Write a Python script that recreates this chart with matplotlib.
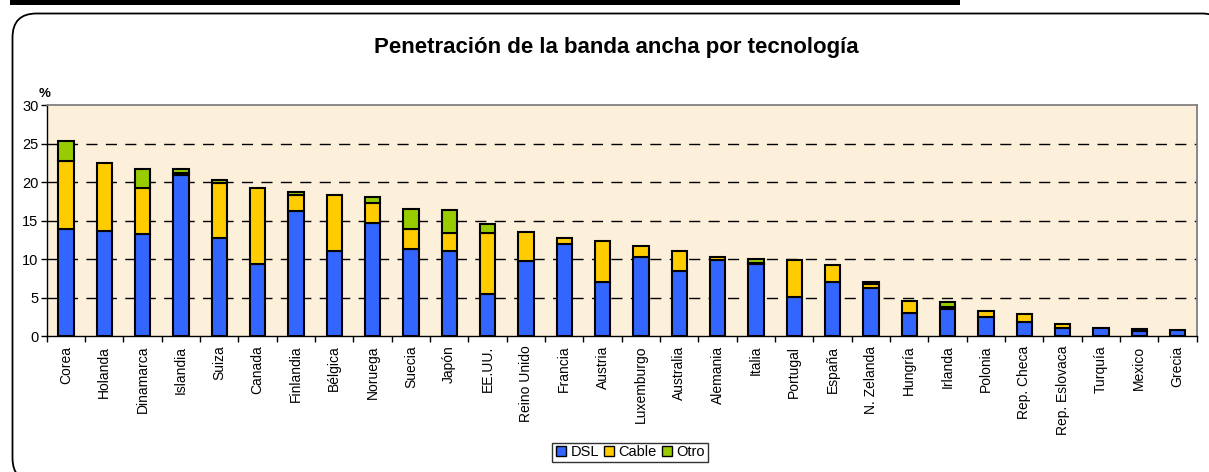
import matplotlib
matplotlib.use("Agg")
import matplotlib.pyplot as plt
from matplotlib.patches import FancyBboxPatch, Rectangle
from matplotlib.lines import Line2D
import numpy as np

plt.rcParams['font.family'] = ['Liberation Sans', 'DejaVu Sans']

countries = ["Corea", "Holanda", "Dinamarca", "Islandia", "Suiza", "Canada", "Finlandia",
             "Bélgica", "Noruega", "Suecia", "Japón", "EE.UU.", "Reino Unido", "Francia",
             "Austria", "Luxemburgo", "Australia", "Alemania", "Italia", "Portugal", "España",
             "N. Zelanda", "Hungría", "Irlanda", "Polonia", "Rep. Checa", "Rep. Eslovaca",
             "Turquía", "Mexico", "Grecia"]
dsl = [13.9, 13.6, 13.2, 20.9, 12.7, 9.4, 16.3,
       11.0, 14.75, 11.3, 11.0, 5.5, 9.7, 11.9,
       7.0, 10.3, 8.5, 9.85, 9.3, 5.1, 7.0,
       6.3, 2.95, 3.5, 2.5, 1.8, 1.1,
       1.05, 0.7, 0.8]
cable = [8.9, 8.9, 6.1, 0.3, 7.2, 9.8, 2.1,
         7.3, 2.6, 2.6, 2.4, 7.95, 3.8, 0.8,
         5.4, 1.4, 2.5, 0.45, 0.2, 4.75, 2.25,
         0.4, 1.6, 0.3, 0.8, 1.0, 0.5,
         0.0, 0.25, 0.0]
otro = [2.6, 0.0, 2.4, 0.5, 0.4, 0.0, 0.3,
        0.0, 0.7, 2.6, 3.0, 1.15, 0.0, 0.0,
        0.0, 0.0, 0.0, 0.0, 0.5, 0.0, 0.0,
        0.3, 0.0, 0.6, 0.0, 0.0, 0.0,
        0.0, 0.0, 0.0]
series_names = ["DSL", "Cable", "Otro"]
series_colors = ["#3366FF", "#FFCC00", "#99CC00"]
yticks = [0, 5, 10, 15, 20, 25, 30]
title = "Penetración de la banda ancha por tecnología"

W, H = 1209, 472
fig = plt.figure(figsize=(W / 100, H / 100), dpi=100)

# background frame axes in pixel coordinates
bg = fig.add_axes([0, 0, 1, 1], zorder=0)
bg.set_xlim(0, W)
bg.set_ylim(H, 0)
bg.axis("off")
frame = FancyBboxPatch((12.5, 13.5), 1226 - 12.5, 482 - 13.5,
                       boxstyle="round,pad=0,rounding_size=24",
                       facecolor="white", edgecolor="black", linewidth=1.3)
bg.add_patch(frame)
bg.add_patch(Rectangle((10, -1), 950, 5.7, facecolor="black", edgecolor="none"))

ax = fig.add_axes([46.7 / W, 1 - 336 / H, (1196.7 - 46.7) / W, (336 - 105.3) / H], zorder=1)
ax.set_facecolor("#FCF0DA")

x = np.arange(len(countries))
width = 0.40
bottom = np.zeros(len(countries))
for name, vals, col in zip(series_names, [dsl, cable, otro], series_colors):
    vals = np.array(vals)
    mask = vals > 0
    ax.bar(x[mask], vals[mask], width, bottom=bottom[mask], color=col,
           edgecolor="black", linewidth=1.5, zorder=3, label=name)
    bottom = bottom + vals

ax.set_xlim(-0.5, len(countries) - 0.5)
ax.set_ylim(0, 30)
ax.set_yticks(yticks)
ax.set_yticklabels([str(v) for v in yticks], fontsize=10.5)
for v in yticks[1:-1]:
    ax.axhline(v, color="black", linestyle=(0, (8, 6)), linewidth=1.0, zorder=1)

ax.set_xticks(x)
ax.set_xticklabels(countries, rotation=90, fontsize=10)
ax.set_xticks(np.arange(len(countries) + 1) - 0.5, minor=True)
ax.tick_params(axis="x", which="major", length=0, pad=7)
ax.tick_params(axis="x", which="minor", length=4, width=1, color="black", direction="out")
ax.tick_params(axis="y", length=4, width=1, direction="out", pad=2)

for side in ["top", "right"]:
    ax.spines[side].set_color("#808080")
    ax.spines[side].set_linewidth(1.3)
for side in ["left", "bottom"]:
    ax.spines[side].set_color("black")
    ax.spines[side].set_linewidth(1.0)

fig.text(616 / W, 1 - 47 / H, title, ha="center", va="center",
         fontsize=16, fontweight="bold")
fig.text(45 / W, 1 - 94 / H, "%", ha="center", va="center",
         fontsize=9.5, fontweight="bold")

handles = [Line2D([0], [0], marker="s", linestyle="none", markersize=7.5,
                  markerfacecolor=c, markeredgecolor="black", markeredgewidth=1.0)
           for c in series_colors]
leg = fig.legend(handles, series_names, loc="center", bbox_to_anchor=(630 / W, 1 - 452.5 / H),
                 ncol=3, fontsize=10.5, frameon=True, fancybox=False,
                 handlelength=0.8, handletextpad=0.25, columnspacing=0.3,
                 borderpad=0.2, borderaxespad=0)
leg.get_frame().set_edgecolor("black")
leg.get_frame().set_linewidth(1.0)

fig.savefig("out.png", dpi=100)
